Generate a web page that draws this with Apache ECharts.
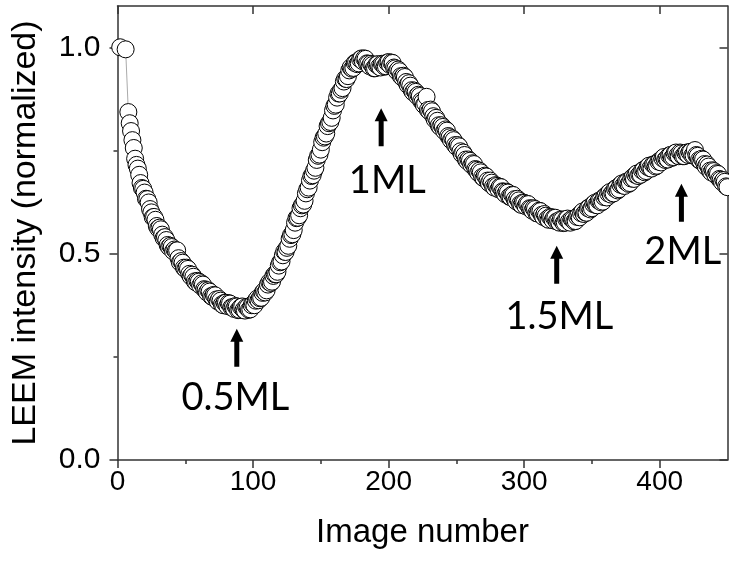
<!DOCTYPE html>
<html>
<head>
<meta charset="utf-8">
<script src="https://cdn.jsdelivr.net/npm/echarts@6/dist/echarts.min.js"></script>
<style>
html,body{margin:0;padding:0;background:#fff;}
#chart{width:729px;height:561px;}
</style>
</head>
<body>
<div id="chart"></div>
<script>
// ---- data ----
// first two frames (read separately), then one value per image from image 8 to 450
const firstImages = [2, 6];
const firstIntensity = [1.000, 0.995];
const seriesStartImage = 8;
const intensity = [
  .843,.816,.797,.775,.756,.730,.715,.706,.691,.671,
  .659,.657,.648,.633,.632,.624,.608,.600,.588,.589,
  .582,.567,.561,.563,.559,.546,.538,.540,.533,.521,
  .516,.519,.516,.506,.510,.507,.508,.489,.479,.482,
  .478,.466,.463,.466,.463,.451,.445,.449,.444,.433,
  .430,.434,.432,.423,.428,.425,.414,.412,.406,.411,
  .408,.397,.395,.400,.399,.389,.384,.390,.386,.377,
  .375,.381,.381,.373,.380,.379,.370,.370,.366,.373,
  .372,.363,.364,.371,.372,.364,.362,.371,.370,.364,
  .365,.375,.378,.375,.386,.391,.387,.392,.393,.405,
  .409,.406,.411,.425,.431,.429,.432,.446,.450,.450,
  .456,.471,.479,.481,.496,.505,.504,.514,.519,.536,
  .545,.547,.557,.575,.586,.587,.593,.610,.617,.619,
  .628,.646,.656,.660,.677,.688,.690,.701,.708,.727,
  .737,.740,.752,.770,.781,.784,.791,.809,.816,.819,
  .829,.847,.858,.861,.878,.888,.888,.897,.901,.917,
  .924,.923,.930,.944,.951,.948,.950,.962,.963,.959,
  .961,.971,.973,.966,.973,.972,.961,.960,.954,.960,
  .957,.949,.949,.958,.959,.953,.951,.960,.959,.953,
  .954,.963,.964,.957,.963,.962,.951,.949,.942,.946,
  .942,.930,.927,.931,.928,.916,.909,.913,.907,.896,
  .891,.895,.892,.882,.885,.882,.870,.867,.860,.864,
  .880,.848,.845,.849,.845,.833,.825,.829,.822,.811,
  .807,.811,.807,.797,.801,.798,.785,.782,.775,.779,
  .775,.763,.759,.763,.760,.748,.741,.745,.739,.728,
  .724,.728,.725,.715,.719,.717,.705,.703,.696,.701,
  .697,.686,.683,.689,.687,.677,.671,.677,.672,.663,
  .660,.666,.664,.656,.662,.661,.651,.650,.644,.650,
  .648,.638,.637,.643,.642,.632,.627,.633,.629,.620,
  .618,.624,.623,.615,.621,.620,.610,.609,.604,.610,
  .608,.598,.597,.604,.603,.594,.589,.596,.592,.584,
  .582,.589,.588,.581,.587,.587,.578,.579,.575,.583,
  .582,.574,.575,.584,.585,.578,.575,.584,.583,.578,
  .579,.589,.592,.588,.598,.602,.596,.600,.599,.610,
  .612,.607,.610,.620,.623,.618,.617,.628,.628,.624,
  .626,.637,.640,.636,.646,.649,.643,.647,.646,.657,
  .659,.653,.656,.667,.670,.665,.664,.674,.674,.669,
  .671,.682,.685,.681,.691,.694,.688,.692,.691,.701,
  .703,.697,.700,.710,.713,.707,.706,.716,.716,.711,
  .713,.723,.725,.721,.731,.734,.727,.730,.728,.738,
  .739,.732,.734,.743,.745,.738,.736,.745,.743,.736,
  .736,.744,.745,.739,.746,.747,.738,.738,.751,.739,
  .737,.727,.725,.730,.728,.717,.711,.716,.711,.701,
  .697,.702,.700,.691,.695,.693,.681,.679,.673,.678,
  .674,.663,.661];

const xMajorTicks = [0, 100, 200, 300, 400];
const xMinorTicks = [50, 150, 250, 350];
const yMajorTicks = [0, 0.5, 1.0];
const yMinorTicks = [0.25, 0.75];

// annotations: label, arrow centre (x, y), text centre (x, y)
const annLabels = ['0.5ML', '1ML', '1.5ML', '2ML'];
const annArrowX = [88, 194.5, 324, 416];
const annArrowY = [0.272, 0.806, 0.473, 0.623];
const annTextX  = [87, 199, 326, 417];
const annTextY  = [0.150, 0.676, 0.348, 0.504];

// ---- chart ----
const axisColor = '#333';
const sansFont = "'Liberation Sans', Arial, sans-serif";

const points = firstImages.map((x, i) => [x, firstIntensity[i]]);
intensity.forEach((v, i) => points.push([seriesStartImage + i, v]));

const arrowPath = 'path://M6.5,0 L13,13 L9,13 L9,38 L4,38 L4,13 L0,13 Z';
const markData = [];
annLabels.forEach((t, i) => {
  markData.push({
    coord: [annArrowX[i], annArrowY[i]],
    symbol: arrowPath, symbolSize: [13, 38], symbolKeepAspect: false,
    itemStyle: {color: '#000'}, label: {show: false}
  });
  markData.push({
    coord: [annTextX[i], annTextY[i]],
    symbol: 'circle', symbolSize: 0,
    label: {show: true, formatter: t, position: 'inside', fontSize: 38,
            fontFamily: "Lato, 'Noto Sans', sans-serif", color: '#000'}
  });
});

function xAx(pos, ticks, len, inside, opts) {
  return Object.assign({
    type: 'value', min: 0, max: 450, position: pos,
    axisLine: {show: false, lineStyle: {color: axisColor, width: 1.5}},
    axisTick: {show: true, customValues: ticks, length: len, inside: inside,
               lineStyle: {color: axisColor, width: 1.5}},
    axisLabel: {show: false},
    splitLine: {show: false}
  }, opts || {});
}
function yAx(pos, ticks, len, inside, opts) {
  return Object.assign({
    type: 'value', min: 0, max: 1.1, position: pos,
    axisLine: {show: false, lineStyle: {color: axisColor, width: 1.5}},
    axisTick: {show: true, customValues: ticks, length: len, inside: inside,
               lineStyle: {color: axisColor, width: 1.5}},
    axisLabel: {show: false},
    splitLine: {show: false}
  }, opts || {});
}
const shownLine = {show: true, onZero: false, lineStyle: {color: axisColor, width: 1.5}};

const chart = echarts.init(document.getElementById('chart'), null, {renderer: 'canvas'});
chart.setOption({
  animation: false,
  backgroundColor: '#fff',
  grid: {left: 117.5, right: 1.5, top: 6, bottom: 101, containLabel: false},
  xAxis: [
    xAx('bottom', xMajorTicks, 8, false, {
      axisLine: shownLine,
      axisLabel: {show: true, customValues: xMajorTicks, margin: 8,
                  fontSize: 28, color: '#000', fontFamily: sansFont},
      name: 'Image number', nameLocation: 'middle', nameGap: 56,
      nameTextStyle: {fontSize: 33, color: '#000', fontFamily: sansFont}
    }),
    xAx('bottom', xMinorTicks, 4, false),
    xAx('top', xMajorTicks, 8, true, {axisLine: shownLine}),
    xAx('top', xMinorTicks, 4, true)
  ],
  yAxis: [
    yAx('left', yMajorTicks, 8, false, {
      axisLine: shownLine,
      axisLabel: {show: true, customValues: yMajorTicks, margin: 17,
                  formatter: v => v.toFixed(1),
                  fontSize: 30, color: '#000', fontFamily: sansFont},
      name: 'LEEM intensity (normalized)', nameLocation: 'middle', nameGap: 75,
      nameTextStyle: {fontSize: 34, color: '#000', fontFamily: sansFont}
    }),
    yAx('left', yMinorTicks, 4, false),
    yAx('right', yMajorTicks, 8, true, {axisLine: shownLine}),
    yAx('right', yMinorTicks, 4, true)
  ],
  series: [{
    type: 'line',
    xAxisIndex: 0, yAxisIndex: 0,
    data: points,
    symbol: 'circle', symbolSize: 17,
    showSymbol: true, showAllSymbol: true,
    itemStyle: {color: '#fff', borderColor: '#000', borderWidth: 1},
    lineStyle: {color: '#aaa', width: 1},
    emphasis: {disabled: true},
    silent: true,
    markPoint: {silent: true, data: markData, animation: false}
  }]
});
</script>
</body>
</html>
